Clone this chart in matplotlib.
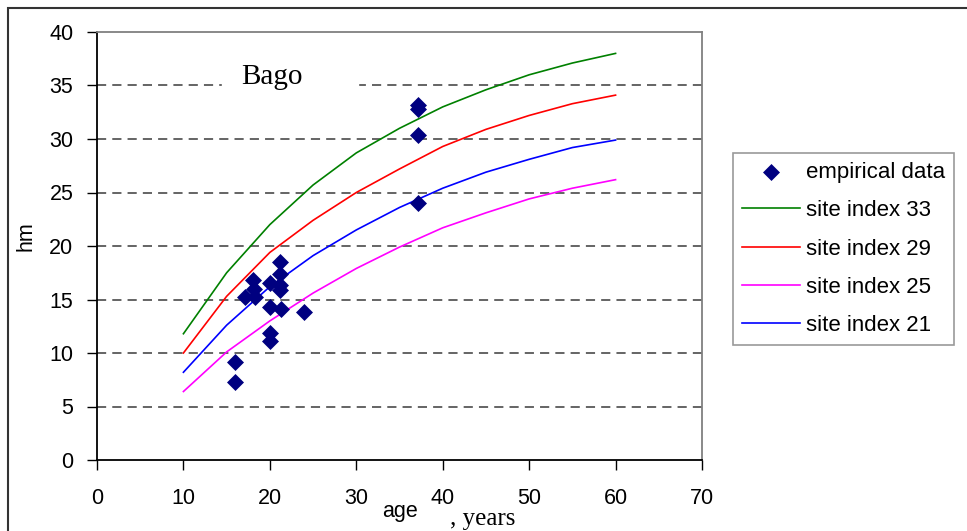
import matplotlib
matplotlib.use("Agg")
import matplotlib.pyplot as plt
from matplotlib.patches import Rectangle

# site index curves (age, years -> hm)
ages = [10, 15, 20, 25, 30, 35, 40, 45, 50, 55, 60]
si33 = [11.8, 17.5, 22.0, 25.7, 28.7, 31.0, 33.0, 34.6, 36.0, 37.1, 38.0]
si29 = [10.0, 15.3, 19.4, 22.4, 25.0, 27.2, 29.3, 30.9, 32.2, 33.3, 34.1]
si25 = [6.4, 10.1, 13.0, 15.6, 17.9, 19.9, 21.7, 23.1, 24.4, 25.4, 26.2]
si21 = [8.2, 12.6, 16.2, 19.1, 21.5, 23.6, 25.4, 26.9, 28.1, 29.2, 29.9]

# empirical data
emp_age = [16, 16, 17.1, 18.1, 18.2, 18.3, 20, 20, 20, 20,
           21.2, 21.2, 21.2, 21.2, 21.3, 24, 37.1, 37.1, 37.1, 37.1]
emp_hm = [9.2, 7.3, 15.2, 16.8, 15.95, 15.2, 16.5, 14.3, 11.9, 11.15,
          18.5, 17.4, 16.4, 15.9, 14.1, 13.8, 33.2, 32.8, 30.4, 24.0]

xticks = [0, 10, 20, 30, 40, 50, 60, 70]
yticks = [0, 5, 10, 15, 20, 25, 30, 35, 40]

sans = "Liberation Sans"
serif = "Liberation Serif"
plt.rcParams['font.family'] = [sans, 'DejaVu Sans']

fig = plt.figure(figsize=(9.67, 5.31), dpi=100)
ax = fig.add_axes([97/967, 71/531, 605/967, 428/531])

# outer chart frame
fig.patches.append(Rectangle((8/967, -0.05), 1.1, (523/531) + 0.05, transform=fig.transFigure,
                             fill=False, edgecolor='#333333', linewidth=1.5))

for y in yticks[1:-1]:
    ax.axhline(y, color='#3a3a3a', linewidth=1.1, linestyle=(0, (6, 4)), zorder=1)

ax.scatter(emp_age, emp_hm, marker='D', s=75, color='#000080', zorder=4,
           label='empirical data', linewidths=0)
ax.plot(ages, si33, color='#008000', linewidth=1.2, label='site index 33', zorder=3)
ax.plot(ages, si29, color='#ff0000', linewidth=1.2, label='site index 29', zorder=3)
ax.plot(ages, si25, color='#ff00ff', linewidth=1.2, label='site index 25', zorder=3)
ax.plot(ages, si21, color='#0000ff', linewidth=1.2, label='site index 21', zorder=3)

ax.set_xlim(0, 70)
ax.set_ylim(0, 40)
ax.set_xticks(xticks)
ax.set_yticks(yticks)
ax.tick_params(axis='both', labelsize=15.5, length=7, width=1, direction='out')
ax.tick_params(axis='x', pad=13)
ax.tick_params(axis='y', pad=10)

ax.spines['left'].set_color('black')
ax.spines['bottom'].set_color('black')
ax.spines['top'].set_color('#808080')
ax.spines['right'].set_color('#808080')
for s in ax.spines.values():
    s.set_linewidth(1.3)

ax.text(20.2, 35.1, 'Bago', family=[serif, 'DejaVu Serif'], fontsize=21,
        ha='center', va='baseline', zorder=2,
        bbox=dict(facecolor='white', edgecolor='none', boxstyle='square,pad=0.05'))
# white gap in the 35 gridline behind the label
ax.axhspan(34.3, 35.7, xmin=(222-97)/605, xmax=(358-97)/605, color='white', zorder=1.5)

fig.text(400/967, 1 - 512/531, 'age', fontsize=15.5, ha='center', va='center')
fig.text(483/967, 1 - 519/531, ', years', family=[serif, 'DejaVu Serif'], fontsize=18,
         ha='center', va='center')
fig.text(26/967, 1 - 236/531, 'hm', fontsize=15.5, rotation=90, ha='center', va='center')

leg = fig.legend(loc='upper left', bbox_to_anchor=(733/967, 1 - 153/531),
                 fontsize=16, frameon=True, fancybox=False, borderpad=0.4,
                 labelspacing=0.78, handlelength=2.6, handletextpad=0.3,
                 borderaxespad=0, scatterpoints=1)
leg.get_frame().set_edgecolor('#808080')
leg.get_frame().set_linewidth(1.2)

fig.savefig('out.png', dpi=100)
